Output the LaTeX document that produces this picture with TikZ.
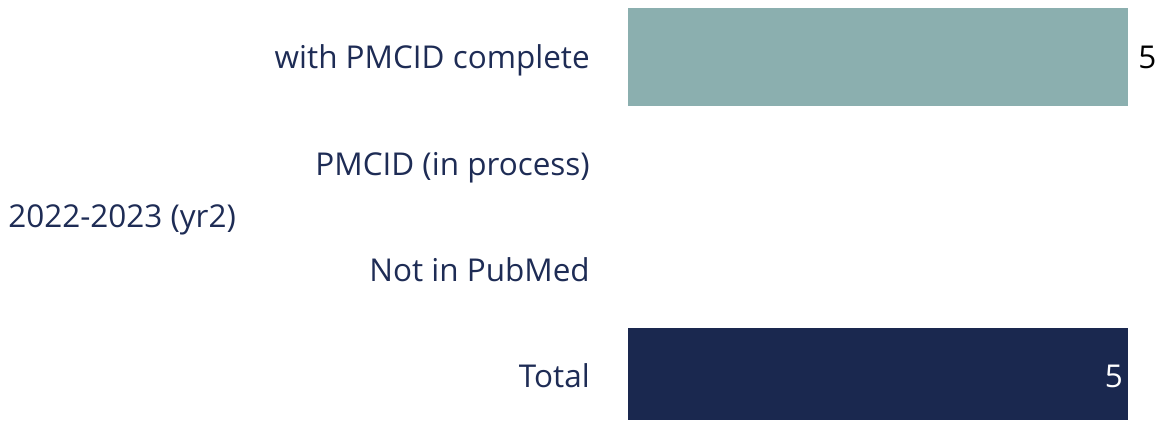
\documentclass[tikz,border=0pt]{standalone}
\usepackage{fontspec}
\setmainfont{Open Sans}
\usetikzlibrary{positioning}
\definecolor{barteal}{HTML}{8BAFAF}
\definecolor{barnavy}{HTML}{1A284F}
\definecolor{labnavy}{HTML}{1E2C55}
\tikzset{
  lab/.style={anchor=base east, text=labnavy, font=\fontsize{23.6}{28}\selectfont, inner sep=0pt},
  val/.style={font=\fontsize{23.6}{28}\selectfont, inner sep=0pt},
  bar/.style={draw=none, inner sep=0pt, anchor=north west}
}
\begin{document}
\begin{tikzpicture}[x=0.75pt,y=-0.75pt]
\useasboundingbox (0,0) rectangle (1156,421);
\node[lab] (lcomplete) at (590,68){with PMCID complete};
\node[lab] (lprocess) at (590,175){PMCID (in process)};
\node[lab, anchor=base west] (lyear) at (8,227){2022-2023 (yr2)};
\node[lab] (lnotin) at (590,281){Not in PubMed};
\node[lab] (ltotal) at (590,387){Total};
\fill[barteal] (628,8) rectangle (1128,106);
\fill[barnavy] (628,328) rectangle (1128,420);
\node[val, anchor=base west] (vcomplete) at (1138,68){5};
\node[val, anchor=base east, text=white] (vtotal) at (1123,387){5};
\end{tikzpicture}
\end{document}
